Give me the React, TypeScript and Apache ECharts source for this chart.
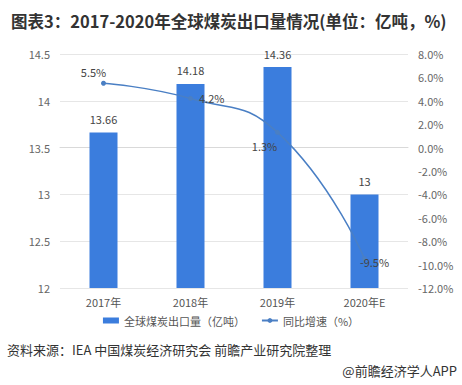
import React, { useEffect, useRef } from "react";
import * as echarts from "echarts";

const categories = ["2017年", "2018年", "2019年", "2020年E"];
const exportVolume = [13.66, 14.18, 14.36, 13];
const growthRate = [5.5, 4.2, 1.3, -9.5];

export default function App() {
  const ref = useRef<HTMLDivElement>(null);
  useEffect(() => {
    const chart = echarts.init(ref.current!, null, { renderer: "svg" });
    const font = "'Noto Sans CJK SC', 'Noto Sans', sans-serif";
    const labelCfg = [
      { position: "top", distance: 3, offset: [-10, 0] },
      { position: "right", distance: 6 },
      { position: "bottom", distance: 6, offset: [-13, 0] },
      { position: "inside", offset: [10, 3] },
    ];
    chart.setOption({
      animation: false,
      backgroundColor: "#fff",
      textStyle: { fontFamily: font },
      title: {
        text: "图表3：2017-2020年全球煤炭出口量情况(单位：亿吨，%)",
        left: 6,
        top: 8,
        textStyle: { fontSize: 16.5, fontWeight: "bold", color: "#333", fontFamily: font },
      },
      grid: { left: 60, right: 54, top: 54, bottom: 97 },
      legend: {
        bottom: 54,
        left: "center",
        itemGap: 16,
        itemWidth: 16,
        itemHeight: 6,
        textStyle: { color: "#555", fontSize: 11 },
        data: [
          { name: "全球煤炭出口量（亿吨）", icon: "rect" },
          { name: "同比增速（%）" },
        ],
      },
      xAxis: {
        type: "category",
        data: categories,
        axisLine: { lineStyle: { color: "#d9d9d9" } },
        axisTick: { show: false },
        axisLabel: { color: "#555", fontSize: 11, margin: 8 },
      },
      yAxis: [
        {
          type: "value",
          min: 12,
          max: 14.5,
          interval: 0.5,
          axisLine: { show: false },
          axisTick: { show: false },
          splitLine: { lineStyle: { color: "#e6e6e6" } },
          axisLabel: { color: "#666", fontSize: 11, margin: 10 },
        },
        {
          type: "value",
          min: -12,
          max: 8,
          interval: 2,
          axisLine: { show: false },
          axisTick: { show: false },
          splitLine: { show: false },
          axisLabel: {
            color: "#666",
            fontSize: 11,
            margin: 10,
            formatter: (v: number) => v.toFixed(1) + "%",
          },
        },
      ],
      series: [
        {
          name: "全球煤炭出口量（亿吨）",
          type: "bar",
          data: exportVolume,
          barWidth: 28,
          itemStyle: { color: "#3b7ddd" },
          label: { show: true, position: "top", color: "#444", fontSize: 11, distance: 8 },
        },
        {
          name: "同比增速（%）",
          type: "line",
          yAxisIndex: 1,
          smooth: true,
          data: growthRate.map((v, i) => ({
            value: v,
            label: labelCfg[i],
          })),
          symbol: "circle",
          symbolSize: 5,
          showSymbol: true,
          lineStyle: { color: "#4a7fc4", width: 1.5 },
          itemStyle: { color: "#4a7fc4" },
          label: {
            show: true,
            color: "#444",
            fontSize: 11,
            formatter: (p: any) => p.value + "%",
          },
        },
      ],
      graphic: [
        {
          type: "text",
          left: 7,
          top: 343,
          style: {
            text: "资料来源：IEA 中国煤炭经济研究会 前瞻产业研究院整理",
            fontSize: 13,
            fill: "#333",
            fontFamily: font,
          },
        },
        {
          type: "text",
          right: 5,
          top: 364,
          style: {
            text: "@前瞻经济学人APP",
            fontSize: 13,
            fill: "#333",
            fontFamily: font,
          },
        },
      ],
    });
    return () => chart.dispose();
  }, []);
  return <div ref={ref} style={{ width: 462, height: 385, position: "absolute", left: 0, top: 0 }} />;
}
